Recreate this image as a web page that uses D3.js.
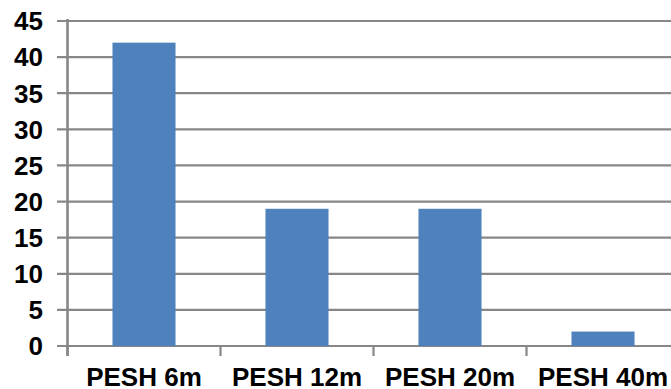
<!DOCTYPE html>
<html>
<head>
<meta charset="utf-8">
<script src="https://cdn.jsdelivr.net/npm/d3@7"></script>
<style>
  html, body { margin: 0; padding: 0; background: #fff; }
  svg { display: block; }
  text { font-family: "Liberation Sans", Arial, sans-serif; font-weight: bold; font-size: 26px; fill: #000; }
</style>
</head>
<body>
<svg id="chart" width="671" height="389"></svg>
<script>
// Chart data
const categories = ["PESH 6m", "PESH 12m", "PESH 20m", "PESH 40m"];
const values = [42, 19, 19, 2];
const yTicks = [0, 5, 10, 15, 20, 25, 30, 35, 40, 45];

const svg = d3.select("#chart");
const W = 671, H = 389;
const plotLeft = 67.5, plotRight = 679.5, plotTop = 21, plotBottom = 346;
const gridColor = "#878787";

const x = d3.scaleBand().domain(categories).range([plotLeft, plotRight]).paddingInner(0.588).paddingOuter(0.294);
const y = d3.scaleLinear().domain([0, 45]).range([plotBottom, plotTop]);

// Horizontal gridlines with short outer ticks on the left
svg.append("g").selectAll("line").data(yTicks).join("line")
  .attr("x1", 57).attr("x2", W)
  .attr("y1", d => y(d)).attr("y2", d => y(d))
  .attr("stroke", gridColor).attr("stroke-width", 2.2);

// Y-axis labels
svg.append("g").selectAll("text").data(yTicks).join("text")
  .attr("x", 43).attr("y", d => y(d))
  .attr("dy", "0.36em")
  .attr("text-anchor", "end")
  .text(d => d);

// Bars
svg.append("g").selectAll("rect").data(values).join("rect")
  .attr("x", (d, i) => x(categories[i]))
  .attr("width", x.bandwidth())
  .attr("y", d => y(d))
  .attr("height", d => y(0) - y(d))
  .attr("fill", "#4f81bd");

// Vertical axis line
svg.append("line")
  .attr("x1", plotLeft).attr("x2", plotLeft)
  .attr("y1", plotTop - 2).attr("y2", plotBottom + 10)
  .attr("stroke", gridColor).attr("stroke-width", 2.6);

// Category boundary ticks below the baseline
const step = x.step();
const boundaries = d3.range(categories.length + 1).map(i => plotLeft + i * step);
svg.append("g").selectAll("line").data(boundaries).join("line")
  .attr("x1", d => d).attr("x2", d => d)
  .attr("y1", plotBottom).attr("y2", plotBottom + 10)
  .attr("stroke", gridColor).attr("stroke-width", 2.2);

// Category labels
svg.append("g").selectAll("text").data(categories).join("text")
  .attr("x", d => x(d) + x.bandwidth() / 2)
  .attr("y", 386)
  .attr("text-anchor", "middle")
  .text(d => d);
</script>
</body>
</html>
